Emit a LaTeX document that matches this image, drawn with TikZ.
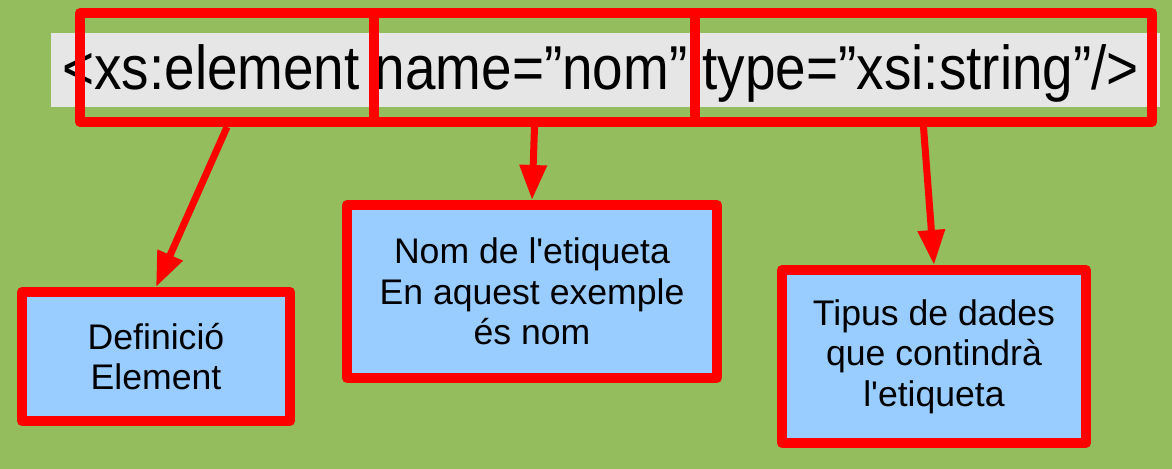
\documentclass[tikz,border=0pt]{standalone}
\usepackage{fontspec}
\setmainfont{Liberation Sans}
\newfontfamily\codefont[FakeStretch=0.885]{Liberation Sans}
\usetikzlibrary{arrows.meta}
\definecolor{bggreen}{RGB}{148,189,94}
\definecolor{codegray}{RGB}{230,230,230}
\definecolor{boxblue}{RGB}{153,204,255}

\begin{document}
\begin{tikzpicture}[x=0.5pt, y=-0.5pt,
  frm/.style={draw=red, line width=5pt, line join=round, inner sep=0pt},
  box/.style={frm, fill=boxblue, align=center, font=\fontsize{17.8}{20.2}\selectfont},
  arr/.style={draw=red, line width=3.5pt, -{Triangle[length=17.5pt, width=13pt]}}]
\fill[bggreen] (0,0) rectangle (1172,469);
\useasboundingbox (0,0) rectangle (1172,469);

% the line of code
\fill[codegray] (51,33) rectangle (1160,107);
\node[anchor=base west, inner sep=0pt, font=\codefont\fontsize{31}{36}\selectfont] (code) at (62,90)
  {<xs:element name=”nom” type=”xsi:string”/>};

% frames round its parts
\node[frm, minimum width=147pt, minimum height=54.5pt] (kElem) at (227,67.5) {};
\node[frm, minimum width=160.5pt, minimum height=54.5pt] (kName) at (534.5,67.5) {};
\node[frm, minimum width=228.5pt, minimum height=54.5pt] (kType) at (923.5,67.5) {};

% explanations
\node[box, minimum width=134pt, minimum height=64.5pt] (dElem) at (156,356.5) {Definició\\Element};
\node[box, minimum width=185pt, minimum height=86.5pt] (dName) at (532,291.5) {Nom de l\textquotesingle etiqueta\\En aquest exemple\\és nom};
\node[box, minimum width=152pt, minimum height=86.5pt] (dType) at (934,356.5) {Tipus de dades\\que contindrà\\l\textquotesingle etiqueta};

\foreach \a/\b in {kElem/dElem, kName/dName, kType/dType}{
  \draw[arr] (\a.south) -- (\b.north);
}

\end{tikzpicture}
\end{document}
